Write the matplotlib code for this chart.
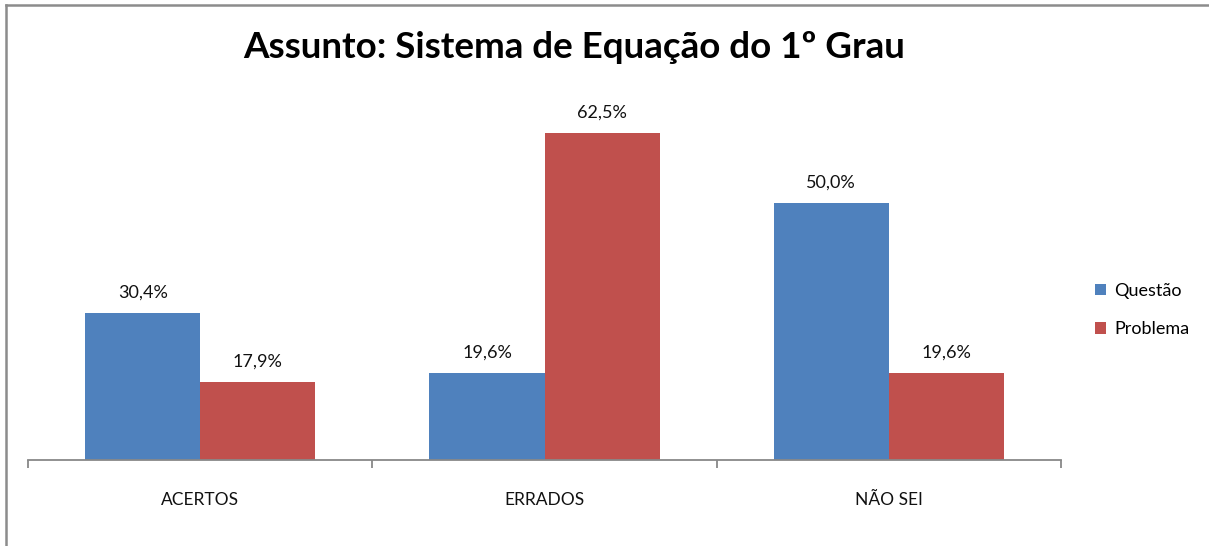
import numpy as np
import matplotlib.pyplot as plt
from matplotlib.lines import Line2D

categorias = ['ACERTOS', 'ERRADOS', 'NÃO SEI']
questao = [30.4, 19.6, 50.0]
problema = [17.9, 62.5, 19.6]
series = ['Questão', 'Problema']
cores = ['#4F81BD', '#C0504D']

plt.rcParams['font.family'] = ['Lato', 'DejaVu Sans']

W, H = 1209, 546
fig = plt.figure(figsize=(W / 100, H / 100), dpi=100)

# plot area in pixels: x 28..1061, y 100..460 (from top)
ax = fig.add_axes([28 / W, 86 / H, (1061 - 28) / W, 360 / H])

x = np.arange(len(categorias))
largura = 0.334
b1 = ax.bar(x - largura / 2, questao, largura, color=cores[0], label=series[0])
b2 = ax.bar(x + largura / 2, problema, largura, color=cores[1], label=series[1])

for barras, vals in [(b1, questao), (b2, problema)]:
    for r, v in zip(barras, vals):
        ax.annotate(f'{v:.1f}%'.replace('.', ','), (r.get_x() + r.get_width() / 2, v),
                    xytext=(0, 9), textcoords='offset points',
                    ha='center', va='bottom', fontsize=13, color='#111111')

ax.set_ylim(4, 68.5)
ax.set_xlim(-0.5, 2.5)
ax.set_yticks([])
for s in ['top', 'right', 'left']:
    ax.spines[s].set_visible(False)
ax.spines['bottom'].set_color('#888888')
ax.spines['bottom'].set_linewidth(1.3)

ax.set_xticks(x)
ax.set_xticklabels(categorias, fontsize=12.5, color='#111111')
ax.tick_params(axis='x', which='major', length=0, pad=23)
ax.set_xticks([-0.5, 0.5, 1.5, 2.5], minor=True)
ax.tick_params(axis='x', which='minor', length=6, width=1.3, color='#888888', direction='out')

fig.text(574 / W, 1 - 48 / H, 'Assunto: Sistema de Equação do 1º Grau',
         ha='center', va='center', fontsize=26.5, fontweight='bold', color='black')

ax.legend(loc='center left', bbox_to_anchor=(1079 / W, 1 - 310 / H), bbox_transform=fig.transFigure,
          frameon=False, fontsize=13, handlelength=0.6, handleheight=0.6,
          handletextpad=0.45, labelspacing=1.25)

# chart frame (only top and left edges visible)
fig.add_artist(Line2D([6 / W, 1.0], [1 - 5 / H, 1 - 5 / H], transform=fig.transFigure,
                      color='#8c8c8c', linewidth=1.8))
fig.add_artist(Line2D([6 / W, 6 / W], [0, 1 - 5 / H], transform=fig.transFigure,
                      color='#8c8c8c', linewidth=1.8))

fig.savefig('out.png', dpi=100)
